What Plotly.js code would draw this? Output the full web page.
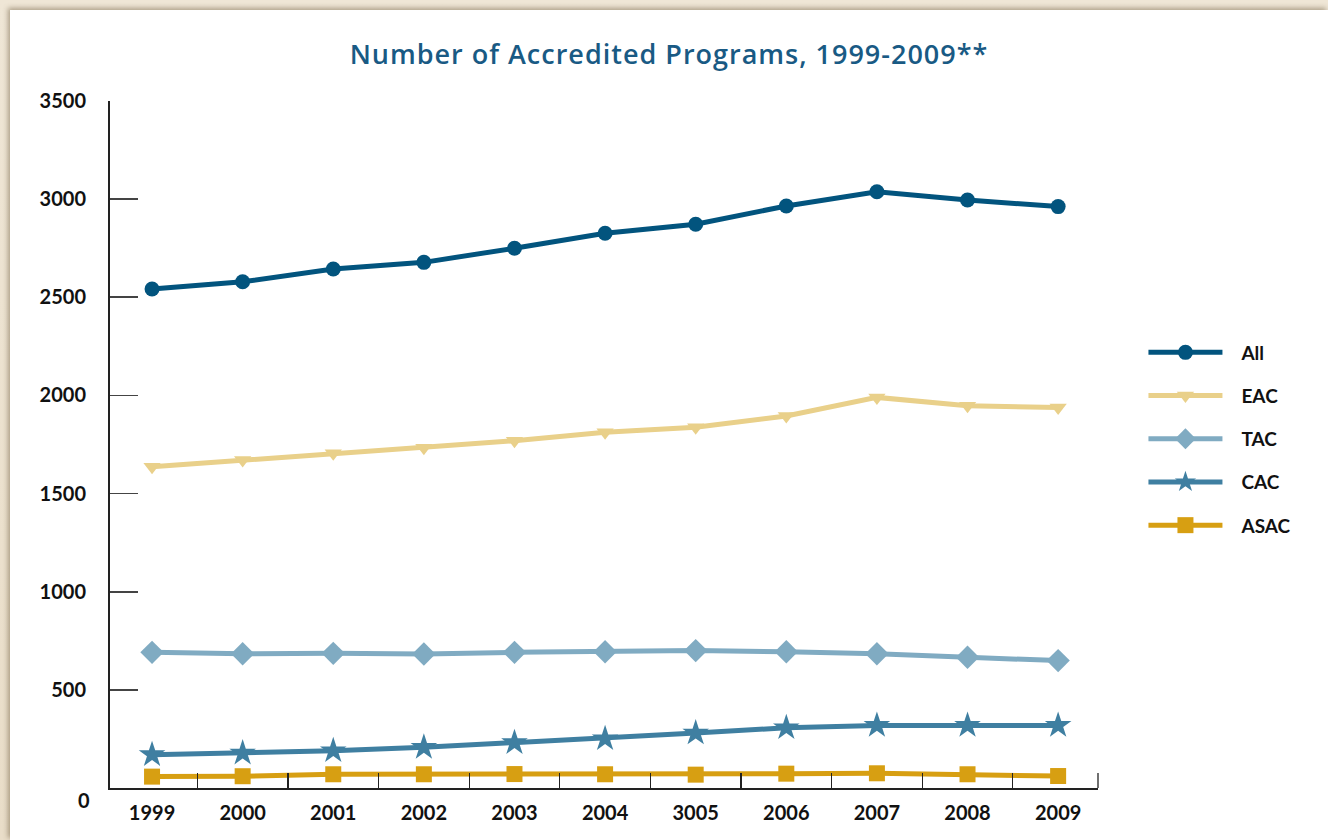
<!DOCTYPE html>
<html>
<head>
<meta charset="utf-8">
<script src="https://cdn.plot.ly/plotly-3.0.1.min.js"></script>
<style>
  html, body { margin: 0; padding: 0; width: 1328px; height: 840px; overflow: hidden;
    background: linear-gradient(180deg, #efe6d6 0%, #e9ddc8 100%); }
  #chart { position: absolute; left: 10px; top: 10px; width: 1318px; height: 830px;
    background: #ffffff; box-shadow: -2px -2px 5px rgba(90,70,40,0.45); }
  #chart .legend, #chart .legend * { clip-path: none !important; }
  #chart .legendtext { transform: translateX(14px); }
  #chart .gtitle { letter-spacing: 1px; }
</style>
</head>
<body>
<div id="chart"></div>
<script>
const years = ['1999','2000','2001','2002','2003','2004','2005','2006','2007','2008','2009'];
const yearLabels = ['1999','2000','2001','2002','2003','2004','3005','2006','2007','2008','2009'];
const allPrograms = [2542, 2579, 2644, 2678, 2750, 2826, 2872, 2965, 3038, 2996, 2962];
const eac = [1637, 1671, 1705, 1734, 1769, 1812, 1838, 1895, 1990, 1947, 1939];
const tac = [691, 684, 686, 683, 691, 694, 700, 694, 684, 666, 649];
const cac = [170, 178, 190, 207, 231, 251, 280, 307, 319, 319, 319];
const asac = [58, 60, 70, 70, 71, 70, 68, 73, 75, 70, 61];
const seriesNames = ['All', 'EAC', 'TAC', 'CAC', 'ASAC'];
const yTicks = [500, 1000, 1500, 2000, 2500, 3000, 3500];

const colors = ['#02547e', '#e9d08a', '#80abc2', '#3f7fa1', '#d79f12'];
const symbols = ['circle', 'triangle-down', 'diamond', 'star', 'square'];
const sizes = [15, 15, 18, 20, 16];
const seriesData = [allPrograms, eac, tac, cac, asac];

const traces = seriesData.map((vals, i) => ({
  type: 'scatter', mode: 'lines+markers',
  x: years, y: vals, name: seriesNames[i],
  legendgroup: 'g' + i,
  line: { color: colors[i], width: 5 },
  marker: { color: colors[i], symbol: symbols[i], size: sizes[i] },
  hoverinfo: 'x+y+name'
}));

const tickFont = { family: 'Lato, "Open Sans", sans-serif', size: 20, color: '#111111', weight: 700 };

const layout = {
  width: 1318, height: 830,
  margin: { l: 100, r: 230, t: 91, b: 52 },
  paper_bgcolor: '#ffffff', plot_bgcolor: '#ffffff',
  showlegend: true,
  title: {
    text: 'Number of Accredited Programs, 1999-2009**',
    font: { family: '"Open Sans", Lato, sans-serif', size: 27, color: '#195a84', weight: 600 },
    xref: 'container', x: 0.5, xanchor: 'center',
    yref: 'container', y: 0.946, yanchor: 'middle'
  },
  xaxis: {
    type: 'category',
    range: [-0.464, 10.44],
    tickmode: 'array', tickvals: years, ticktext: yearLabels,
    tickson: 'boundaries',
    ticks: 'inside', ticklen: 15, tickwidth: 1.3, tickcolor: '#222',
    showline: true, linecolor: '#222', linewidth: 2,
    showgrid: false, zeroline: false,
    tickfont: tickFont,
    ticklabelstandoff: 6,
    fixedrange: true
  },
  yaxis: {
    range: [0, 3500],
    tickmode: 'array', tickvals: yTicks,
    ticks: 'inside', ticklen: 28, tickwidth: 1.8, tickcolor: '#444',
    showline: true, linecolor: '#222', linewidth: 2,
    showgrid: false, zeroline: false,
    tickfont: tickFont,
    ticklabelstandoff: 18,
    fixedrange: true
  },
  legend: {
    x: 1.046, xanchor: 'left', y: 0.508, yanchor: 'middle',
    font: { family: 'Lato, "Open Sans", sans-serif', size: 19, color: '#111', weight: 700 },
    tracegroupgap: 15.5, itemwidth: 74,
    bgcolor: 'rgba(0,0,0,0)'
  },
  annotations: [{
    xref: 'paper', x: 0, yref: 'y', y: 0,
    text: '0', showarrow: false,
    xanchor: 'right', yanchor: 'middle',
    xshift: -18, yshift: -12,
    font: tickFont
  }],
  shapes: [{
    type: 'line', xref: 'paper', x0: 1, x1: 1, yref: 'y', y0: 0, y1: 76,
    line: { color: '#222', width: 1.3 }
  }]
};

Plotly.newPlot('chart', traces, layout, { displayModeBar: false, staticPlot: true });
</script>
</body>
</html>
